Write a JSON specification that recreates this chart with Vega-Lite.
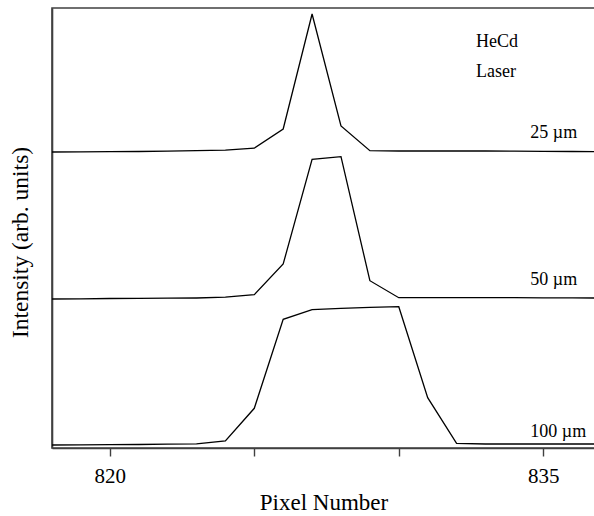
{
  "$schema": "https://vega.github.io/schema/vega-lite/v6.json",
  "width": 543,
  "height": 440,
  "autosize": {"type": "none"},
  "padding": {"left": 52, "top": 8, "right": 0, "bottom": 68},
  "background": "white",
  "config": {
    "view": {"stroke": "#404040", "strokeWidth": 1.6},
    "font": "Liberation Serif",
    "axis": {"domainColor": "#404040", "domainWidth": 1.6, "tickColor": "#404040", "tickWidth": 1.4, "grid": false, "labelFont": "Liberation Serif", "titleFont": "Liberation Serif", "labelColor": "black", "titleColor": "black", "titleFontWeight": "normal"}
  },
  "datasets": {
    "spectra": [
      {"pixel": 818, "intensity": 296.0, "width": "25 µm"},
      {"pixel": 819, "intensity": 296.1, "width": "25 µm"},
      {"pixel": 820, "intensity": 296.3, "width": "25 µm"},
      {"pixel": 821, "intensity": 296.5, "width": "25 µm"},
      {"pixel": 822, "intensity": 296.8, "width": "25 µm"},
      {"pixel": 823, "intensity": 297.4, "width": "25 µm"},
      {"pixel": 824, "intensity": 297.8, "width": "25 µm"},
      {"pixel": 825, "intensity": 299.8, "width": "25 µm"},
      {"pixel": 826, "intensity": 319.0, "width": "25 µm"},
      {"pixel": 827, "intensity": 434.0, "width": "25 µm"},
      {"pixel": 828, "intensity": 322.0, "width": "25 µm"},
      {"pixel": 829, "intensity": 297.3, "width": "25 µm"},
      {"pixel": 830, "intensity": 297.0, "width": "25 µm"},
      {"pixel": 831, "intensity": 297.0, "width": "25 µm"},
      {"pixel": 832, "intensity": 297.0, "width": "25 µm"},
      {"pixel": 833, "intensity": 297.0, "width": "25 µm"},
      {"pixel": 834, "intensity": 296.8, "width": "25 µm"},
      {"pixel": 835, "intensity": 296.6, "width": "25 µm"},
      {"pixel": 836, "intensity": 296.5, "width": "25 µm"},
      {"pixel": 837, "intensity": 296.4, "width": "25 µm"},
      {"pixel": 818, "intensity": 149.0, "width": "50 µm"},
      {"pixel": 819, "intensity": 149.2, "width": "50 µm"},
      {"pixel": 820, "intensity": 149.5, "width": "50 µm"},
      {"pixel": 821, "intensity": 149.7, "width": "50 µm"},
      {"pixel": 822, "intensity": 149.8, "width": "50 µm"},
      {"pixel": 823, "intensity": 150.0, "width": "50 µm"},
      {"pixel": 824, "intensity": 150.8, "width": "50 µm"},
      {"pixel": 825, "intensity": 153.3, "width": "50 µm"},
      {"pixel": 826, "intensity": 184.0, "width": "50 µm"},
      {"pixel": 827, "intensity": 288.7, "width": "50 µm"},
      {"pixel": 828, "intensity": 291.3, "width": "50 µm"},
      {"pixel": 829, "intensity": 167.3, "width": "50 µm"},
      {"pixel": 830, "intensity": 150.3, "width": "50 µm"},
      {"pixel": 831, "intensity": 150.3, "width": "50 µm"},
      {"pixel": 832, "intensity": 150.3, "width": "50 µm"},
      {"pixel": 833, "intensity": 150.3, "width": "50 µm"},
      {"pixel": 834, "intensity": 150.3, "width": "50 µm"},
      {"pixel": 835, "intensity": 150.2, "width": "50 µm"},
      {"pixel": 836, "intensity": 150.1, "width": "50 µm"},
      {"pixel": 837, "intensity": 150.0, "width": "50 µm"},
      {"pixel": 818, "intensity": 3.0, "width": "100 µm"},
      {"pixel": 819, "intensity": 3.1, "width": "100 µm"},
      {"pixel": 820, "intensity": 3.3, "width": "100 µm"},
      {"pixel": 821, "intensity": 3.5, "width": "100 µm"},
      {"pixel": 822, "intensity": 3.8, "width": "100 µm"},
      {"pixel": 823, "intensity": 4.2, "width": "100 µm"},
      {"pixel": 824, "intensity": 7.0, "width": "100 µm"},
      {"pixel": 825, "intensity": 39.7, "width": "100 µm"},
      {"pixel": 826, "intensity": 128.7, "width": "100 µm"},
      {"pixel": 827, "intensity": 138.3, "width": "100 µm"},
      {"pixel": 828, "intensity": 139.7, "width": "100 µm"},
      {"pixel": 829, "intensity": 140.7, "width": "100 µm"},
      {"pixel": 830, "intensity": 141.3, "width": "100 µm"},
      {"pixel": 831, "intensity": 50.3, "width": "100 µm"},
      {"pixel": 832, "intensity": 4.7, "width": "100 µm"},
      {"pixel": 833, "intensity": 4.0, "width": "100 µm"},
      {"pixel": 834, "intensity": 4.0, "width": "100 µm"},
      {"pixel": 835, "intensity": 4.0, "width": "100 µm"},
      {"pixel": 836, "intensity": 4.0, "width": "100 µm"},
      {"pixel": 837, "intensity": 4.0, "width": "100 µm"}
    ],
    "notes": [
      {"pixel": 834.55, "intensity": 310, "label": "25 µm"},
      {"pixel": 834.55, "intensity": 163, "label": "50 µm"},
      {"pixel": 834.55, "intensity": 11, "label": "100 µm"},
      {"pixel": 832.67, "intensity": 401, "label": "HeCd"},
      {"pixel": 832.67, "intensity": 371, "label": "Laser"}
    ]
  },
  "encoding": {
    "x": {"field": "pixel", "type": "quantitative", "scale": {"domain": [818, 836.79], "nice": false, "zero": false},
      "axis": {"orient": "bottom", "values": [820, 825, 830, 835], "labelExpr": "datum.value == 820 || datum.value == 835 ? datum.label : ''", "tickSize": 8, "labelFontSize": 21, "labelPadding": 9, "title": "Pixel Number", "titleFontSize": 23, "titlePadding": 5}},
    "y": {"field": "intensity", "type": "quantitative", "scale": {"domain": [0, 440], "nice": false},
      "axis": {"orient": "left", "ticks": false, "labels": false, "title": "Intensity (arb. units)", "titleFontSize": 23.5, "titlePadding": 20, "titleY": 234}}
  },
  "layer": [
    {
      "data": {"name": "spectra"},
      "mark": {"type": "line", "color": "black", "strokeWidth": 1.3, "clip": true},
      "encoding": {
        "detail": {"field": "width", "type": "nominal"}
      }
    },
    {
      "data": {"name": "notes"},
      "mark": {"type": "text", "align": "left", "baseline": "alphabetic", "fontSize": 18, "font": "Liberation Serif", "color": "black"},
      "encoding": {
        "text": {"field": "label"}
      }
    }
  ]
}
